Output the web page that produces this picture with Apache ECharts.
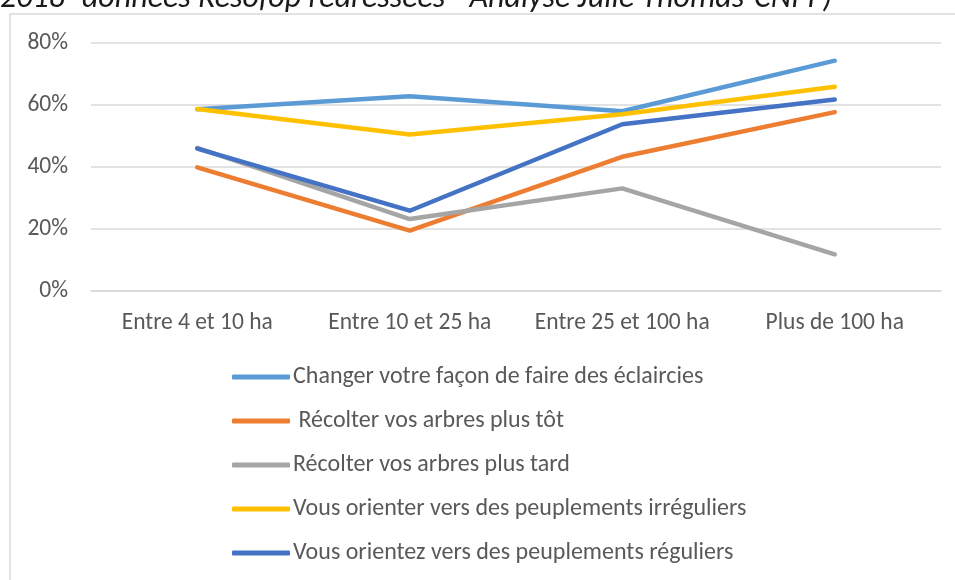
<!DOCTYPE html>
<html>
<head>
<meta charset="utf-8">
<script src="https://cdn.jsdelivr.net/npm/echarts@6/dist/echarts.min.js"></script>
<style>
  html, body { margin: 0; padding: 0; background: #fff; }
  #chart { width: 955px; height: 580px; }
</style>
</head>
<body>
<div id="chart"></div>
<script>
// catégories (surface)
const categories = ['Entre 4 et 10 ha', 'Entre 10 et 25 ha', 'Entre 25 et 100 ha', 'Plus de 100 ha']
const yTicks = [0, 0.2, 0.4, 0.6, 0.8]

const seriesNames = [
  'Changer votre façon de faire des éclaircies',
  ' Récolter vos arbres plus tôt',
  'Récolter vos arbres plus tard',
  'Vous orienter vers des peuplements irréguliers',
  'Vous orientez vers des peuplements réguliers'
]
const eclaircies = [0.586, 0.628, 0.580, 0.743]
const recolteTot = [0.399, 0.195, 0.433, 0.577]
const recolteTard = [0.462, 0.232, 0.331, 0.118]
const irreguliers = [0.587, 0.505, 0.570, 0.659]
const reguliers = [0.459, 0.259, 0.538, 0.618]
const colors = ['#5B9BD5', '#ED7D31', '#A5A5A5', '#FFC000', '#4472C4']

const font = 'Calibri, Carlito, "Open Sans", sans-serif'
const chart = echarts.init(document.getElementById('chart'))

const allData = [eclaircies, recolteTot, recolteTard, irreguliers, reguliers]

const option = {
  animation: false,
  color: colors,
  graphic: [
    {
      type: 'rect',
      shape: { x: 10, y: 14, width: 1000, height: 600 },
      style: { fill: 'none', stroke: '#d9d9d9', lineWidth: 1.5 },
      silent: true
    },
    {
      type: 'text',
      left: 0,
      top: -17,
      style: {
        text: '2018 -données Résofop redressées - Analyse Julie Thomas-CNPF)',
        font: 'italic 32px ' + font,
        fill: '#1a1a1a'
      },
      silent: true
    }
  ],
  grid: { left: 91, right: 14, top: 43, height: 248 },
  xAxis: {
    type: 'category',
    data: categories,
    axisLine: { lineStyle: { color: '#d9d9d9', width: 1.5 } },
    axisTick: { show: false },
    axisLabel: { color: '#595959', fontSize: 23.5, fontFamily: font, margin: 20, interval: 0 }
  },
  yAxis: {
    type: 'value',
    min: yTicks[0],
    max: yTicks[yTicks.length - 1],
    interval: 0.2,
    axisLine: { show: false },
    axisTick: { show: false },
    splitLine: { lineStyle: { color: '#d9d9d9', width: 1.5 } },
    axisLabel: {
      color: '#595959', fontSize: 23.5, fontFamily: font, margin: 23,
      formatter: v => Math.round(v * 100) + '%'
    }
  },
  legend: {
    orient: 'vertical',
    left: 227,
    top: 360,
    itemWidth: 58,
    itemHeight: 5,
    itemGap: 20,
    icon: 'roundRect',
    data: seriesNames,
    textStyle: {
      color: '#595959', fontSize: 24, fontFamily: font, lineHeight: 24,
      padding: [0, 0, 0, -2]
    }
  },
  series: seriesNames.map((name, i) => ({
    name,
    type: 'line',
    data: allData[i],
    symbol: 'none',
    lineStyle: { width: 4.5, cap: 'round', join: 'round' }
  }))
}

chart.setOption(option)
</script>
</body>
</html>
